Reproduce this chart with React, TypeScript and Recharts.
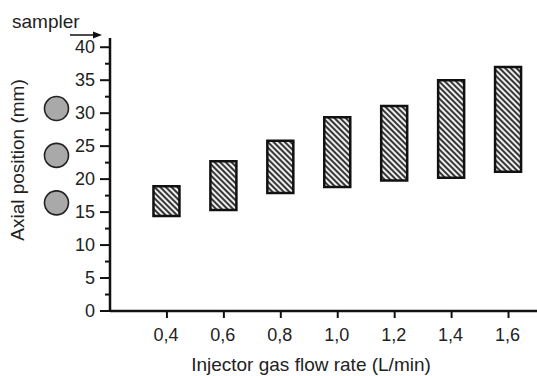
import { ComposedChart, Bar, XAxis, YAxis, ReferenceDot } from "recharts";

const flowRates = [0.4, 0.6, 0.8, 1.0, 1.2, 1.4, 1.6];
const lowPos = [14.4, 15.3, 17.9, 18.8, 19.8, 20.2, 21.1];
const highPos = [18.9, 22.7, 25.8, 29.4, 31.1, 35.0, 37.0];
const yTicks = [0, 2.5, 5, 7.5, 10, 12.5, 15, 17.5, 20, 22.5, 25, 27.5, 30, 32.5, 35, 37.5, 40];
const circlePos = [30.7, 23.6, 16.4];

const data = flowRates.map((x, i) => ({ x, range: [lowPos[i], highPos[i]] }));

const FONT = "'Liberation Sans', Arial, Helvetica, sans-serif";
const INK = "#222";

function YTick({ x, y, payload }: any) {
  const v = payload.value;
  const major = v % 5 === 0;
  return (
    <g>
      <line x1={x - (major ? 10 : 5)} x2={x} y1={y} y2={y} stroke="#111" strokeWidth={2} />
      {major && (
        <text x={x - 15} y={y} dy={6} textAnchor="end" fontSize={18} fontFamily={FONT} fill={INK}>
          {v}
        </text>
      )}
    </g>
  );
}

function XTick({ x, y, payload }: any) {
  return (
    <g>
      <line x1={x} x2={x} y1={y} y2={y + 7} stroke="#111" strokeWidth={2} />
      <text x={x - 1} y={y + 30} textAnchor="middle" fontSize={18} fontFamily={FONT} fill={INK}>
        {payload.value.toFixed(1).replace(".", ",")}
      </text>
    </g>
  );
}

export default function App() {
  return (
    <div style={{ position: "absolute", left: 0, top: 0, width: 537, height: 376, background: "#fff" }}>
      <svg width={0} height={0} style={{ position: "absolute" }}>
        <defs>
          <pattern id="hatch" patternUnits="userSpaceOnUse" width={4} height={4} patternTransform="rotate(-45)">
            <rect width={4} height={4} fill="#eee" />
            <line x1={1} y1={0} x2={1} y2={4} stroke="#222" strokeWidth={1.8} />
          </pattern>
        </defs>
      </svg>
      <ComposedChart width={537} height={376} data={data} margin={{ top: 38, right: 0, bottom: 0, left: 0 }}>
        <XAxis
          dataKey="x"
          type="number"
          domain={[0.2, 1.7]}
          ticks={flowRates}
          interval={0}
          height={65}
          tickSize={0}
          tickMargin={0}
          tickLine={false}
          tick={<XTick />}
          axisLine={{ stroke: "#111", strokeWidth: 2.5 }}
          allowDataOverflow
        />
        <YAxis
          type="number"
          domain={[0, 41.4]}
          ticks={yTicks}
          interval={0}
          width={110}
          tickSize={0}
          tickMargin={0}
          tickLine={false}
          tick={<YTick />}
          axisLine={{ stroke: "#111", strokeWidth: 2.5 }}
          allowDataOverflow
        />
        <Bar dataKey="range" barSize={26} fill="url(#hatch)" stroke="#111" strokeWidth={2.5} isAnimationActive={false} />
        {circlePos.map((p) => (
          <ReferenceDot key={p} x={0.012} y={p} r={12} fill="#a9a9a9" stroke="#222" strokeWidth={1.6} ifOverflow="visible" />
        ))}
      </ComposedChart>
      <svg width={537} height={376} style={{ position: "absolute", left: 0, top: 0, pointerEvents: "none" }}>
        <text x={12} y={28} fontSize={19} fontFamily={FONT} fill={INK}>sampler</text>
        <line x1={70} y1={35} x2={96} y2={35} stroke="#111" strokeWidth={1.5} />
        <polygon points="102,35 93,31.5 93,38.5" fill="#111" />
        <text
          x={18}
          y={160}
          transform="rotate(-90 18 160)"
          dy={6}
          textAnchor="middle"
          fontSize={19}
          fontFamily={FONT}
          fill={INK}
        >
          Axial position (mm)
        </text>
        <text x={311} y={371} textAnchor="middle" fontSize={19} fontFamily={FONT} fill={INK}>
          Injector gas flow rate (L/min)
        </text>
      </svg>
    </div>
  );
}
